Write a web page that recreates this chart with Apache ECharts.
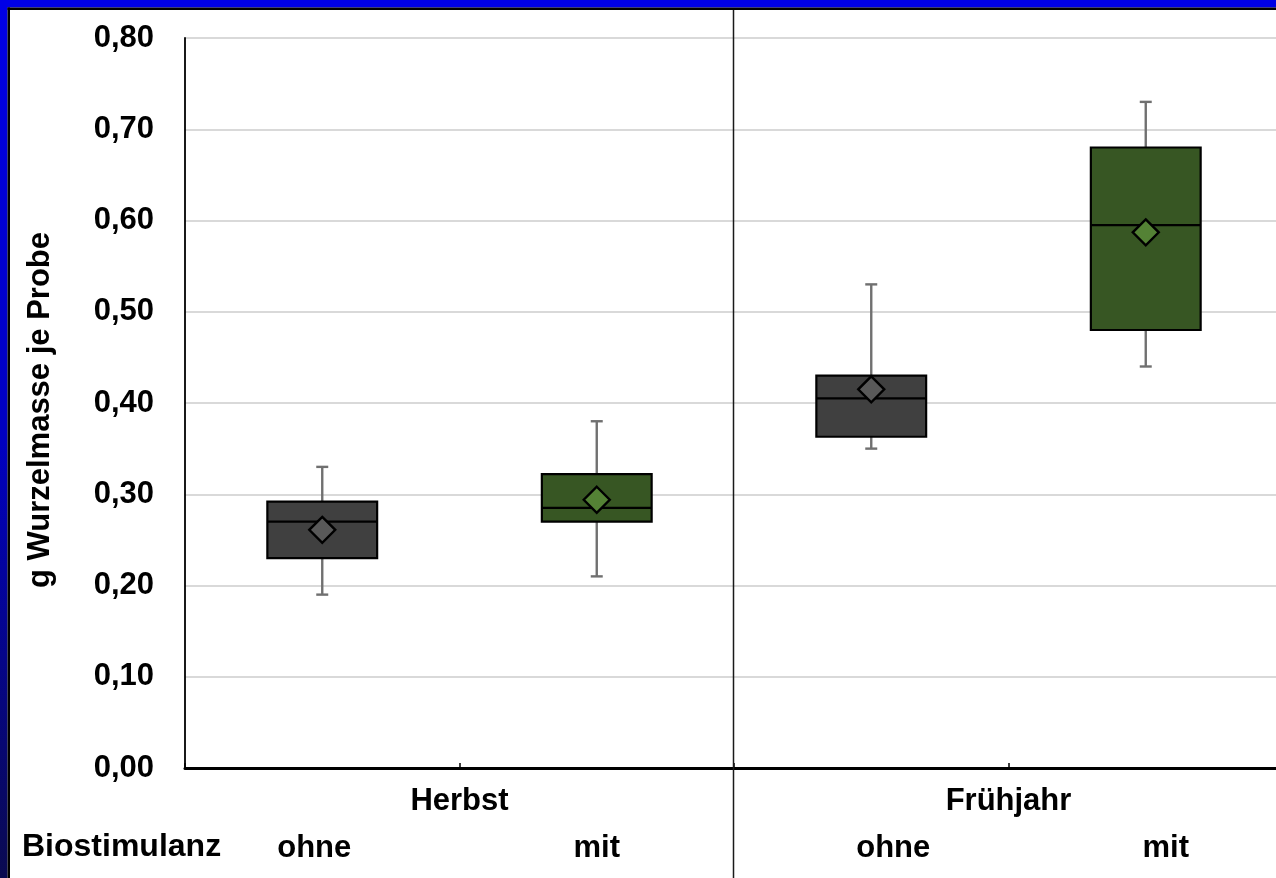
<!DOCTYPE html>
<html>
<head>
<meta charset="utf-8">
<script src="https://cdn.jsdelivr.net/npm/echarts@6/dist/echarts.min.js"></script>
<style>
  html, body { margin: 0; padding: 0; overflow: hidden; background: #ffffff; width: 1276px; height: 878px; }
  #chart { width: 1283px; height: 878px; }
</style>
</head>
<body>
<div id="chart"></div>
<script>
// Root mass per sample, by sowing season and biostimulant treatment
const seasons = ['Herbst', 'Frühjahr'];
const treatments = ['ohne', 'mit', 'ohne', 'mit'];
const whiskerLow  = [0.19, 0.21, 0.35, 0.44];
const quartile1   = [0.23, 0.27, 0.363, 0.48];
const medians     = [0.27, 0.285, 0.405, 0.595];
const quartile3   = [0.292, 0.322, 0.43, 0.68];
const whiskerHigh = [0.33, 0.38, 0.53, 0.73];
const means       = [0.261, 0.294, 0.415, 0.587];
const yMin = 0, yMax = 0.8, yStep = 0.1;

const boxFill  = { ohne: '#404040', mit: '#375623' };
const meanFill = { ohne: '#595959', mit: '#548235' };
const FONT = "'Liberation Sans', Arial, sans-serif";
const FS = 31;

// per-label horizontal nudges for the treatment row
const labelShift = [-8, 0, 22, 20];

const boxData = treatments.map((t, i) =>
  [i, whiskerLow[i], quartile1[i], medians[i], quartile3[i], whiskerHigh[i], means[i]]);

function renderBox(params, api) {
  const i = api.value(0);
  const t = treatments[i];
  const cx = api.coord([i, 0])[0];
  const half = api.size([1, 0])[0] * 0.2;
  const y = v => api.coord([i, v])[1];
  const yLo = y(api.value(1)), yQ1 = y(api.value(2)), yMed = y(api.value(3));
  const yQ3 = y(api.value(4)), yHi = y(api.value(5)), yMean = y(api.value(6));
  const cap = 6, d = 13;
  const whisk = { stroke: '#707070', lineWidth: 2.4 };
  return {
    type: 'group',
    children: [
      { type: 'line', shape: { x1: cx, y1: yHi, x2: cx, y2: yQ3 }, style: whisk },
      { type: 'line', shape: { x1: cx, y1: yQ1, x2: cx, y2: yLo }, style: whisk },
      { type: 'line', shape: { x1: cx - cap, y1: yHi, x2: cx + cap, y2: yHi }, style: whisk },
      { type: 'line', shape: { x1: cx - cap, y1: yLo, x2: cx + cap, y2: yLo }, style: whisk },
      { type: 'rect', shape: { x: cx - half, y: yQ3, width: half * 2, height: yQ1 - yQ3 },
        style: { fill: boxFill[t], stroke: '#000000', lineWidth: 2.2 } },
      { type: 'line', shape: { x1: cx - half, y1: yMed, x2: cx + half, y2: yMed },
        style: { stroke: '#000000', lineWidth: 2.2 } },
      { type: 'polygon', shape: { points: [[cx, yMean - d], [cx + d, yMean], [cx, yMean + d], [cx - d, yMean]] },
        style: { fill: meanFill[t], stroke: '#000000', lineWidth: 2.4 } }
    ]
  };
}

const rich = {};
labelShift.forEach((s, i) => {
  rich['l' + i] = {
    fontFamily: FONT, fontSize: FS, fontWeight: 'bold', color: '#000000',
    padding: s >= 0 ? [0, 0, 0, 2 * s] : [0, -2 * s, 0, 0]
  };
});

const chart = echarts.init(document.getElementById('chart'), null, { renderer: 'canvas' });

chart.setOption({
  backgroundColor: '#ffffff',
  animation: false,
  grid: { left: 185, right: 0, top: 38, bottom: 110, outerBoundsMode: 'none', containLabel: false },
  xAxis: [
    {
      type: 'category',
      data: treatments,
      position: 'bottom',
      axisLine: { show: true, lineStyle: { color: '#000000', width: 3 } },
      axisTick: { show: true, inside: true, length: 5, interval: 0, lineStyle: { color: '#000000', width: 1.5 } },
      splitLine: { show: false },
      axisLabel: {
        interval: 0, margin: 65,
        formatter: (v, idx) => '{l' + idx + '|' + v + '}',
        rich: rich
      }
    },
    {
      type: 'category',
      data: seasons,
      position: 'bottom',
      axisLine: { show: false },
      axisTick: { show: false },
      splitLine: { show: false },
      axisLabel: {
        interval: 0, margin: 18,
        fontFamily: FONT, fontSize: FS, fontWeight: 'bold', color: '#000000'
      }
    }
  ],
  yAxis: {
    type: 'value',
    min: yMin, max: yMax, interval: yStep,
    name: 'g Wurzelmasse je Probe',
    nameLocation: 'middle',
    nameGap: 129,
    nameTextStyle: { fontFamily: FONT, fontSize: FS, fontWeight: 'bold', color: '#000000', padding: [0, 14, 0, 0] },
    axisLine: { show: true, lineStyle: { color: '#000000', width: 1.8 } },
    axisTick: { show: false },
    splitLine: { show: true, lineStyle: { color: '#d9d9d9', width: 1.8 } },
    axisLabel: {
      margin: 31,
      fontFamily: FONT, fontSize: FS, fontWeight: 'bold', color: '#000000',
      formatter: v => v.toFixed(2).replace('.', ',')
    }
  },
  series: [{
    type: 'custom',
    xAxisIndex: 0,
    renderItem: renderBox,
    encode: { x: 0, y: [1, 2, 3, 4, 5, 6] },
    data: boxData,
    z: 5
  }]
});

// season divider between the two groups, plus the framed border
const xA = chart.convertToPixel({ xAxisIndex: 0 }, 1);
const xB = chart.convertToPixel({ xAxisIndex: 0 }, 2);
const divX = Math.round((xA + xB) / 2) - 0.5;

chart.setOption({
  graphic: [
    { type: 'line', shape: { x1: divX, y1: 9, x2: divX, y2: 878 },
      style: { stroke: '#1a1a1a', lineWidth: 1.5 }, z: 10 },
    { type: 'rect', shape: { x: 0, y: 0, width: 7.5, height: 878 },
      style: { fill: new echarts.graphic.LinearGradient(0, 0, 0, 1, [
        { offset: 0, color: '#0000e6' },
        { offset: 0.5, color: '#0000c0' },
        { offset: 1, color: '#0a0a50' }
      ]) }, z: 20 },
    { type: 'rect', shape: { x: 0, y: 0, width: 1283, height: 7.5 },
      style: { fill: '#0000e6' }, z: 20 },
    { type: 'rect', shape: { x: 7.5, y: 7.5, width: 2.5, height: 878 },
      style: { fill: '#000000' }, z: 21 },
    { type: 'rect', shape: { x: 7.5, y: 7.5, width: 1283, height: 2.5 },
      style: { fill: '#000000' }, z: 21 },
    { type: 'text', left: 22, top: 831,
      style: { text: 'Biostimulanz', fontFamily: FONT, fontSize: 32, fontWeight: 'bold', fill: '#000000' }, z: 10 }
  ]
});
</script>
</body>
</html>
